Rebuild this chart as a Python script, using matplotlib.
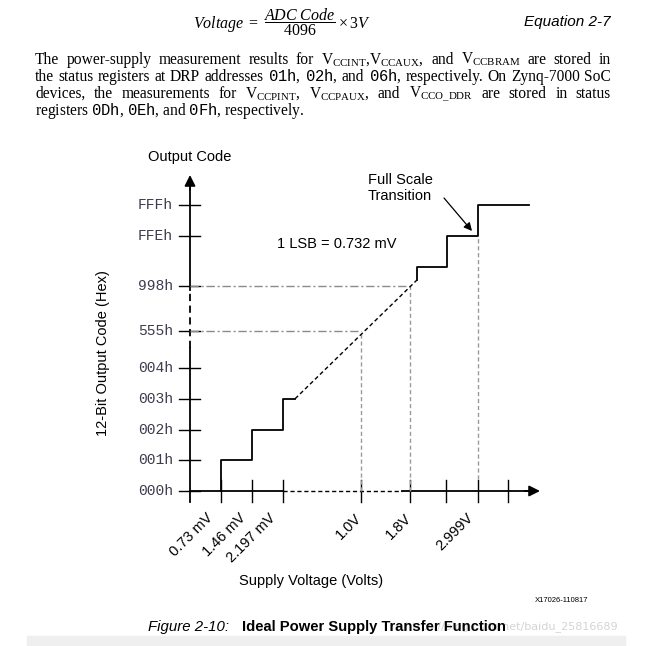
import matplotlib.pyplot as plt
from matplotlib.patches import Rectangle

plt.rcParams['mathtext.fontset'] = 'custom'
plt.rcParams['mathtext.rm'] = 'Liberation Serif'
plt.rcParams['mathtext.it'] = 'Liberation Serif:italic'
plt.rcParams['mathtext.bf'] = 'Liberation Serif:bold'
plt.rcParams['mathtext.tt'] = 'Liberation Mono'

# chart content
y_codes = ['000h', '001h', '002h', '003h', '004h', '555h', '998h', 'FFEh', 'FFFh']
x_labels = ['0.73 mV', '1.46 mV', '2.197 mV', '1.0V', '1.8V', '2.999V']
high_steps = ['FFDh', 'FFEh', 'FFFh']
marked = [('1.0V', '555h'), ('1.8V', '998h')]   # supply voltage -> output code

# schematic layout (slot units, 1 slot ~ 31 px)
y_slot = dict(zip(y_codes, [0, 1, 2, 3, 4, 5.2, 6.67, 8.3, 9.3]))
y_slot['FFDh'] = 7.3
x_slot = dict(zip(x_labels, [1, 2, 3, 5.52, 7.1, 9.29]))
x_nudge = dict(zip(x_labels, [-0.33, -0.28, -0.3, -0.05, -0.03, -0.22]))
extra_ticks = [8.26, 10.26]
high_x = [7.32, 8.3, 9.29, 10.94]

W, H = 653, 646
X0, Y0, UX, UY = 190, 491, 31.0, 30.75


def P(px, py):
    return (px - X0) / UX, (Y0 - py) / UY


def F(px, py):
    return px / W, 1 - py / H


fig = plt.figure(figsize=(W / 100, H / 100), dpi=100)
ax = fig.add_axes([0, 0, 1, 1])
ax.set_xlim(-X0 / UX, (W - X0) / UX)
ax.set_ylim(-(H - Y0) / UY, Y0 / UY)
ax.axis('off')

sans = 'Liberation Sans'
lw = 1.3

# ---- document text above the figure
fig.text(*F(282, 22), r'$\mathit{Voltage}\ =\ \dfrac{\mathit{ADC\ Code}}{4096}\times 3\mathit{V}$',
         ha='center', va='center', fontsize=11.5)
fig.text(*F(611, 22), 'Equation 2-7', ha='right', va='center', fontsize=11, style='italic', family=sans)

para = [
    r'The power-supply measurement results for V$_{\mathrm{CCINT}}$,V$_{\mathrm{CCAUX}}$, and V$_{\mathrm{CCBRAM}}$ are stored in',
    r'the status registers at DRP addresses $\mathtt{01h}$, $\mathtt{02h}$, and $\mathtt{06h}$, respectively. On Zynq-7000 SoC',
    r'devices, the measurements for V$_{\mathrm{CCPINT}}$, V$_{\mathrm{CCPAUX}}$, and V$_{\mathrm{CCO\_DDR}}$ are stored in status',
    r'registers $\mathtt{0Dh}$, $\mathtt{0Eh}$, and $\mathtt{0Fh}$, respectively.',
]
renderer = fig.canvas.get_renderer()
left, right = 35, 611
for i, line in enumerate(para):
    base = 63.5 + i * 17.2
    if i == len(para) - 1:
        fig.text(*F(left, base), line, ha='left', va='baseline', fontsize=11.2,
                 family='Liberation Serif')
        continue
    # justified line: place words one by one
    words = line.split(' ')
    texts = [fig.text(0, 0, w, ha='left', va='baseline', fontsize=11.2,
                      family='Liberation Serif') for w in words]
    widths = [t.get_window_extent(renderer).width for t in texts]
    gap = (right - left - sum(widths)) / (len(words) - 1)
    x = left
    for t, w in zip(texts, widths):
        t.set_position(F(x, base))
        x += w + gap

# ---- axes of the diagram
ax.plot([0, 0], [-0.36, 4.65], color='k', lw=lw)
ax.plot([0, 0], [4.65, 6.54], color='k', lw=lw, dashes=(4, 2.5))
ax.plot([0, 0], [6.54, 9.9], color='k', lw=lw)
ax.annotate('', xy=P(190, 175), xytext=(0, 9.8),
            arrowprops=dict(arrowstyle='-|>', mutation_scale=16, color='k', lw=lw,
                            shrinkA=0, shrinkB=0))

ax.plot([0, 3], [0, 0], color='k', lw=lw)
ax.plot([3, 6.84], [0, 0], color='k', lw=1, dashes=(3, 2))
ax.plot([6.84, 10.9], [0, 0], color='k', lw=lw)
ax.annotate('', xy=P(540, 491), xytext=(10.8, 0),
            arrowprops=dict(arrowstyle='-|>', mutation_scale=16, color='k', lw=lw,
                            shrinkA=0, shrinkB=0))

for code in y_codes:
    y = y_slot[code]
    ax.plot([-0.35, 0.32], [y, y], color='k', lw=1)
    ax.text(-0.55, y, code, ha='right', va='center', family='Liberation Mono',
            fontsize=10.5, color='#3c3c4c')

for lab in x_labels:
    x = x_slot[lab]
    ax.plot([x, x], [-0.36, 0.36], color='k', lw=1)
    ax.text(x + x_nudge[lab], -0.8, lab, ha='right', va='center', rotation=45,
            rotation_mode='anchor', family=sans, fontsize=10.5)
for x in extra_ticks:
    ax.plot([x, x], [-0.36, 0.36], color='k', lw=1)

# ---- guide lines for the marked points
for volt, code in marked:
    x, y = x_slot[volt], y_slot[code]
    ax.plot([0, x], [y, y], color='#8a8a8a', lw=1, dashes=(6, 2, 1.5, 2))
    ax.plot([x, x], [0, y], color='#9a9a9a', lw=1, dashes=(3, 2))
ax.plot([x_slot['2.999V']] * 2, [0.4, y_slot['FFEh']], color='#9a9a9a', lw=1, dashes=(3, 2))

# ---- transfer function
sx = [1, 1, 2, 2, 3, 3, 3.39]
sy = [0, 1, 1, 2, 2, 3, 3]
ax.plot(sx, sy, color='k', lw=lw)

hx, hy = [high_x[0]], [6.86]
for i, code in enumerate(high_steps):
    hx += [high_x[i], high_x[i + 1]]
    hy += [y_slot[code], y_slot[code]]
ax.plot(hx, hy, color='k', lw=lw)

ax.plot([3.39, high_x[0]], [3, 6.86], color='k', lw=1, dashes=(3, 2))

# ---- annotations
ax.text(*P(190, 157), 'Output Code', ha='center', va='center', family=sans, fontsize=10.5)
ax.text(*P(277, 244), '1 LSB = 0.732 mV', ha='left', va='center', family=sans, fontsize=10.5)
ax.text(*P(368, 188), 'Full Scale\nTransition', ha='left', va='center', family=sans,
        fontsize=10.5, linespacing=1.2)
ax.annotate('', xy=P(472, 231), xytext=P(444, 198),
            arrowprops=dict(arrowstyle='-|>', mutation_scale=12, color='k', lw=0.9,
                            shrinkA=0, shrinkB=0))
ax.text(*P(103, 353), '12-Bit Output Code (Hex)', ha='center', va='center', rotation=90,
        family=sans, fontsize=10.5)
ax.text(*P(311, 581), 'Supply Voltage (Volts)', ha='center', va='center', family=sans, fontsize=10.5)
ax.text(*P(588, 600), 'X17026-110817', ha='right', va='center', family=sans, fontsize=5.5)

# ---- caption, watermark and page band
fig.patches.append(Rectangle(F(27, 646), 598 / W, 10 / H, transform=fig.transFigure,
                             color='#efefef', zorder=0))
fig.text(*F(618, 627), 'https://blog.csdn.net/baidu_25816689', ha='right', va='center',
         fontsize=8, color='#d4d4d4', zorder=1)
fig.text(*F(148, 627), 'Figure 2-10:', ha='left', va='center', family=sans, style='italic',
         fontsize=10.8, zorder=2)
fig.text(*F(242, 627), 'Ideal Power Supply Transfer Function', ha='left', va='center',
         family=sans, weight='bold', fontsize=10.6, zorder=2)

fig.savefig('out.png', dpi=100, facecolor='white')
